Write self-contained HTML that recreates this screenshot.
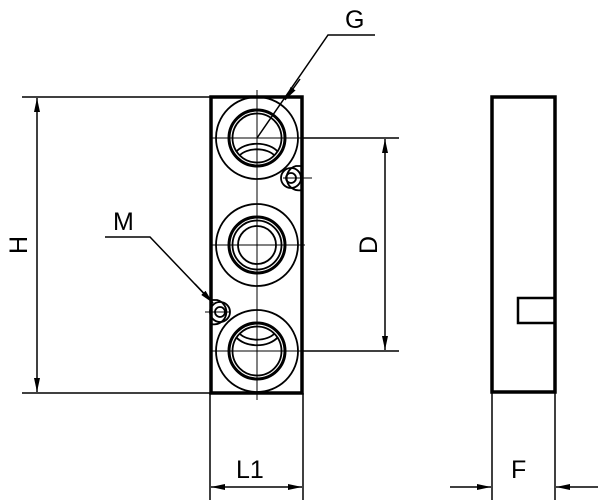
<!DOCTYPE html>
<html><head><style>
html,body{margin:0;padding:0;background:#fff;}
svg{display:block;}
text{font-family:"Liberation Sans","DejaVu Sans",sans-serif;font-size:25px;fill:#000;}
</style></head><body>
<svg width="600" height="502" viewBox="0 0 600 502" xmlns="http://www.w3.org/2000/svg">
<defs>
<marker id="a" viewBox="0 0 14 6" refX="14" refY="3" markerWidth="14" markerHeight="6" orient="auto" markerUnits="userSpaceOnUse">
<path d="M0,0 L14,3 L0,6 z" fill="#000"/></marker>
</defs>
<g fill="none" stroke="#000">
<rect x="211" y="97" width="91" height="296" stroke-width="3.5"/>
<g stroke-width="1">
<line x1="257" y1="90" x2="257" y2="400"/>
<line x1="210" y1="138" x2="305" y2="138"/>
<line x1="210" y1="245" x2="305" y2="245"/>
<line x1="210" y1="351" x2="305" y2="351"/>
</g>
<g stroke-width="1.8">
<circle cx="257" cy="138" r="41"/>
<circle cx="257" cy="138" r="28" stroke-width="3"/>
<circle cx="257" cy="138" r="24.5"/>
<path d="M236,152 A24,16 0 0 1 278,152"/>
<path d="M240,155 A20,12 0 0 1 274,155"/>
<circle cx="257" cy="245" r="41"/>
<circle cx="257" cy="245" r="28" stroke-width="3"/>
<circle cx="257" cy="245" r="24.5"/>
<circle cx="257" cy="245" r="19"/>
<circle cx="257" cy="351" r="41"/>
<circle cx="257" cy="351" r="28" stroke-width="3"/>
<circle cx="257" cy="351" r="24.5"/>
<path d="M236,337 A24,16 0 0 0 278,337"/>
<path d="M240,334 A20,12 0 0 0 274,334"/>
<path d="M302,166 L296,166 A12,12 0 0 0 302,190"/>
<circle cx="291" cy="178" r="10"/>
<circle cx="291" cy="178" r="5"/>
<path d="M211,300 L217,300 A12,12 0 0 1 211,324"/>
<circle cx="220" cy="312" r="10"/>
<circle cx="220" cy="312" r="5"/>
</g>
<line x1="283" y1="178" x2="312" y2="178" stroke-width="1"/>
<line x1="205" y1="312" x2="230" y2="312" stroke-width="1"/>
<rect x="492" y="97" width="63" height="295" stroke-width="3.5"/>
<path d="M555,298 L518,298 L518,323 L555,323" stroke-width="2.5"/>
<g stroke-width="1.5">
<line x1="22" y1="97" x2="211" y2="97"/>
<line x1="22" y1="393" x2="211" y2="393"/>
<line x1="37" y1="245" x2="37" y2="98" marker-end="url(#a)"/>
<line x1="37" y1="245" x2="37" y2="392" marker-end="url(#a)"/>
<line x1="302" y1="138" x2="399" y2="138"/>
<line x1="302" y1="351" x2="399" y2="351"/>
<line x1="385" y1="245" x2="385" y2="139" marker-end="url(#a)"/>
<line x1="385" y1="245" x2="385" y2="350" marker-end="url(#a)"/>
<line x1="210" y1="393" x2="210" y2="500"/>
<line x1="303" y1="393" x2="303" y2="500"/>
<line x1="256" y1="487" x2="211" y2="487" marker-end="url(#a)"/>
<line x1="256" y1="487" x2="302" y2="487" marker-end="url(#a)"/>
<line x1="492" y1="392" x2="492" y2="500"/>
<line x1="555" y1="392" x2="555" y2="500"/>
<line x1="450" y1="487" x2="491" y2="487" marker-end="url(#a)"/>
<line x1="598" y1="487" x2="556" y2="487" marker-end="url(#a)"/>
<polyline points="375,35 328,35 257,138"/>
<line x1="300" y1="79" x2="285" y2="100" marker-end="url(#a)"/>
<polyline points="105,237 150,237 213,303"/>
<line x1="195" y1="284" x2="213" y2="303" marker-end="url(#a)"/>
</g>
</g>
<text x="345" y="28">G</text>
<text x="113" y="230">M</text>
<text x="236" y="478">L1</text>
<text x="511" y="478">F</text>
<text transform="translate(27,245) rotate(-90)" text-anchor="middle">H</text>
<text transform="translate(377,245) rotate(-90)" text-anchor="middle">D</text>
</svg>
</body></html>
